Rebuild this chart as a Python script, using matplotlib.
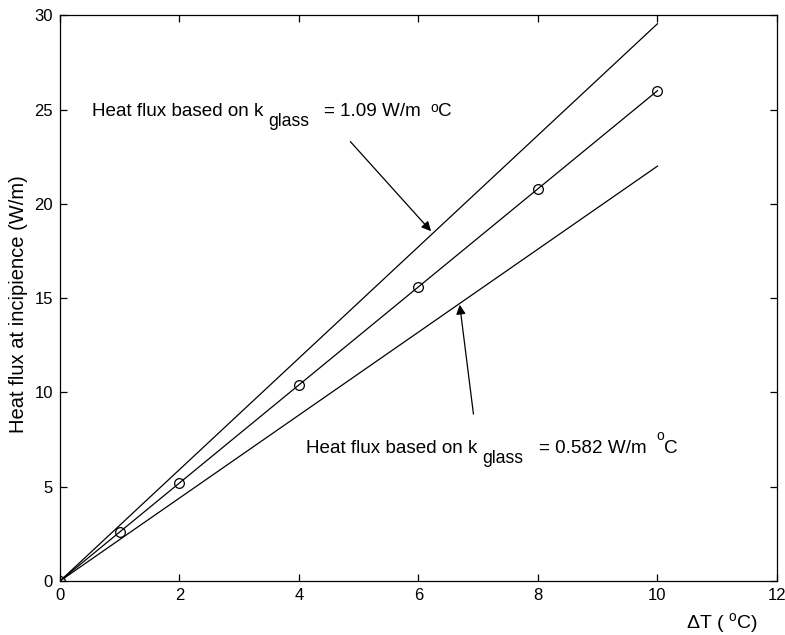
import matplotlib
matplotlib.use("Agg")
import matplotlib.pyplot as plt

plt.rcParams["font.family"] = ["Liberation Sans", "DejaVu Sans"]
plt.rcParams["mathtext.fontset"] = "custom"
plt.rcParams["mathtext.rm"] = "Liberation Sans"
plt.rcParams["mathtext.it"] = "Liberation Sans"

# Data
delta_t = [0, 1, 2, 4, 6, 8, 10]
flux_measured = [0, 2.6, 5.2, 10.4, 15.6, 20.8, 26.0]

bound_x = [0, 10]
flux_k_high = [0, 29.55]   # k_glass = 1.09
flux_k_low = [0, 22.0]     # k_glass = 0.582

x_ticks = [0, 2, 4, 6, 8, 10, 12]
y_ticks = [0, 5, 10, 15, 20, 25, 30]


def label_with_subscript(ax, x, y, value, sup_raise):
    # "Heat flux based on k_glass = value W/m oC" built piece by piece
    t1 = ax.text(x, y, "Heat flux based on k", fontsize=13.6, va="center", ha="left")
    t2 = ax.annotate("glass", xy=(1, 0), xycoords=t1, xytext=(3.5, -7.3),
                     textcoords="offset points", fontsize=12.7, va="bottom")
    t3 = ax.annotate("= " + value + " W/m", xy=(1, 0), xycoords=(t2, t1),
                     xytext=(11, 0), textcoords="offset points", fontsize=13.6,
                     va="bottom")
    t4 = ax.annotate("o", xy=(1, 0), xycoords=(t3, t1), xytext=(7, sup_raise),
                     textcoords="offset points", fontsize=10, va="bottom")
    ax.annotate("C", xy=(1, 0), xycoords=(t4, t1), xytext=(0, 0),
                textcoords="offset points", fontsize=13.6, va="bottom")


fig = plt.figure(figsize=(7.85, 6.35), dpi=100)
ax = fig.add_axes([0.0764, 0.085, 0.9134, 0.891])

ax.plot(bound_x, flux_k_high, color="black", linewidth=0.9)
ax.plot(bound_x, flux_k_low, color="black", linewidth=0.9)
ax.plot(delta_t, flux_measured, color="black", linewidth=0.9,
        marker="o", markersize=7, markerfacecolor="none",
        markeredgecolor="black", markeredgewidth=0.9)

ax.set_xlim(0, 12)
ax.set_ylim(0, 30)
ax.set_xticks(x_ticks)
ax.set_yticks(y_ticks)
ax.tick_params(direction="in", length=5, width=0.9, top=True, right=True,
               labelsize=12, pad=5)
for side in ax.spines.values():
    side.set_linewidth(0.9)

ax.set_ylabel("Heat flux at incipience (W/m)", fontsize=14.5)
ax.yaxis.set_label_coords(-0.045, 0.49)
ax.set_xlabel(r"$\Delta$T ( $^{\rm o}$C)", fontsize=14)
ax.xaxis.set_label_coords(0.923, -0.053)

# Annotations
label_with_subscript(ax, 0.53, 24.9, "1.09", 3.7)
ax.annotate("", xy=(6.21, 18.55), xytext=(4.86, 23.3),
            arrowprops=dict(arrowstyle="-|>", color="black", lw=0.9,
                            mutation_scale=14, shrinkA=0, shrinkB=0))

label_with_subscript(ax, 4.12, 7.05, "0.582", 9.5)
ax.annotate("", xy=(6.69, 14.65), xytext=(6.92, 8.85),
            arrowprops=dict(arrowstyle="-|>", color="black", lw=0.9,
                            mutation_scale=14, shrinkA=0, shrinkB=0))

fig.savefig("out.png", dpi=100)
